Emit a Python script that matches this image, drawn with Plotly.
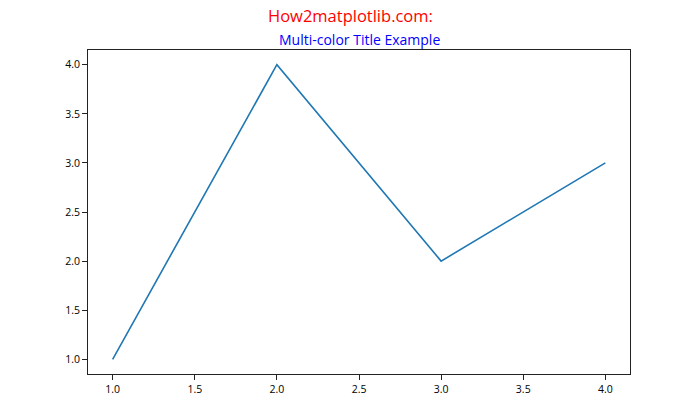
import plotly.graph_objects as go

# data
x_vals = [1, 2, 3, 4]
y_vals = [1, 4, 2, 3]
tick_vals = [1.0, 1.5, 2.0, 2.5, 3.0, 3.5, 4.0]
tick_text = [f"{v:.1f}" for v in tick_vals]

fig = go.Figure()
fig.add_trace(go.Scatter(
    x=x_vals, y=y_vals, mode='lines',
    line=dict(color='#1f77b4', width=1.6),
    showlegend=False
))

axis_style = dict(
    showline=True, linecolor='#222222', linewidth=1, mirror=True,
    ticks='outside', ticklen=5, tickcolor='#222222', tickwidth=1,
    showgrid=False, zeroline=False,
    tickvals=tick_vals, ticktext=tick_text,
    tickfont=dict(size=10.5, color='black'),
)

fig.update_xaxes(range=[0.85, 4.15], **axis_style)
fig.update_yaxes(range=[0.85, 4.15], **axis_style)

# plot area in pixels: x 87.5..630, y 50.4..373.8
plot_w = 542.5
plot_h = 323.4

# two-part title: red figure title and blue axes title
fig.add_annotation(
    text="How2matplotlib.com:",
    x=(350 - 87.5) / plot_w, y=1 + (50.4 - 15.5) / plot_h,
    xref='paper', yref='paper', showarrow=False,
    font=dict(size=16.5, color='red'),
    xanchor='center', yanchor='middle',
)
fig.add_annotation(
    text="Multi-color Title Example",
    x=0.5, y=1 + (50.4 - 40) / plot_h,
    xref='paper', yref='paper', showarrow=False,
    font=dict(size=14, color='blue'),
    xanchor='center', yanchor='middle',
)

fig.update_layout(
    width=700, height=420,
    margin=dict(l=87.5, r=70, t=50.4, b=46.2),
    plot_bgcolor='white', paper_bgcolor='white',
    font=dict(family='Open Sans, DejaVu Sans, sans-serif'),
)

fig.write_html("out.html", config={'displayModeBar': False},
               post_script="document.body.style.margin='0';")
